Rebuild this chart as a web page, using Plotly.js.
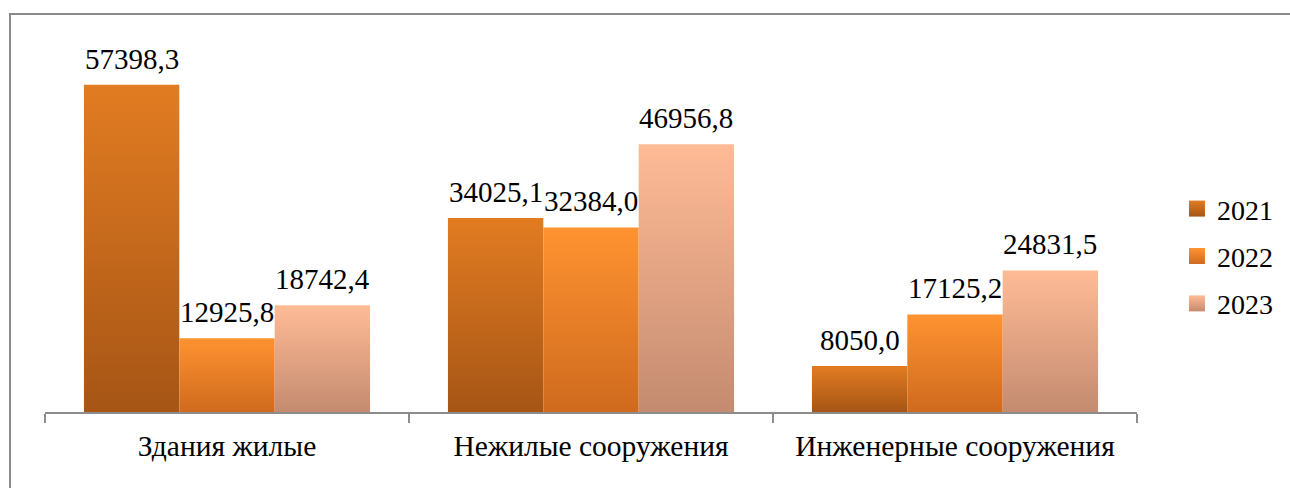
<!DOCTYPE html>
<html>
<head>
<meta charset="utf-8">
<script src="https://cdn.plot.ly/plotly-3.0.1.min.js"></script>
<style>
  html, body { margin: 0; padding: 0; background: #fff; }
  #wrap { position: relative; width: 1290px; height: 488px; overflow: hidden; }
  #frame { position: absolute; left: 9px; top: 13px; width: 1290px; height: 500px; border: 2px solid #8a8a8a; box-sizing: border-box; pointer-events: none; }
  #chart { position: absolute; left: 0; top: 0; width: 1290px; height: 488px; }
</style>
</head>
<body>
<div id="wrap">
  <div id="chart"></div>
  <div id="frame"></div>
</div>
<script>
const categories = ["Здания жилые", "Нежилые сооружения", "Инженерные сооружения"];
const years = ["2021", "2022", "2023"];
const values2021 = [57398.3, 34025.1, 8050.0];
const values2022 = [12925.8, 32384.0, 17125.2];
const values2023 = [18742.4, 46956.8, 24831.5];
const seriesValues = [values2021, values2022, values2023];

const gradients = [
  ["#E27C22", "#A65515"],
  ["#FF9331", "#CF6A1E"],
  ["#FFBB96", "#C48B70"]
];
const baseColors = ["#C9691C", "#F07F26", "#E8A486"];

const W = 1290, H = 488;
const margin = {l: 45, r: 153, t: 70, b: 76};
const bargap = 0.214;
const plotW = W - margin.l - margin.r;
const barPx = (plotW / categories.length) * (1 - bargap) / years.length;
const fontFam = 'Liberation Serif, Times New Roman, serif';

const fmt = v => v.toFixed(1).replace('.', ',');

const traces = years.map((y, i) => ({
  type: 'bar',
  name: y,
  x: categories,
  y: seriesValues[i],
  marker: {color: baseColors[i], line: {width: 0}},
  legendgroup: 'g' + i,
  hoverinfo: 'none'
}));

const annotations = [];
years.forEach((y, i) => {
  seriesValues[i].forEach((v, j) => {
    annotations.push({
      x: categories[j], y: v, xref: 'x', yref: 'y',
      text: fmt(v), showarrow: false,
      yanchor: 'bottom', xanchor: 'center',
      xshift: (i - 1) * barPx, yshift: 8,
      font: {family: fontFam, size: 29, color: '#000'}
    });
  });
});

const layout = {
  width: W, height: H,
  margin: margin,
  paper_bgcolor: 'rgba(0,0,0,0)',
  plot_bgcolor: 'rgba(0,0,0,0)',
  barmode: 'group',
  bargap: bargap,
  bargroupgap: 0,
  showlegend: true,
  legend: {
    x: 1.0366, xanchor: 'left',
    y: 0.455, yanchor: 'middle',
    font: {family: fontFam, size: 28, color: '#000'},
    traceorder: 'grouped',
    tracegroupgap: 8,
    bgcolor: 'rgba(0,0,0,0)'
  },
  xaxis: {
    type: 'category',
    showline: true, linecolor: '#8c8c8c', linewidth: 2,
    ticks: 'outside', tickson: 'boundaries', ticklen: 9,
    tickcolor: '#8c8c8c', tickwidth: 2,
    showgrid: false, zeroline: false,
    tickfont: {family: fontFam, size: 29.5, color: '#000'},
    ticklabelstandoff: 7,
    fixedrange: true
  },
  yaxis: {
    range: [0, 60000],
    visible: false,
    showgrid: false, zeroline: false,
    fixedrange: true
  },
  annotations: annotations
};

function applyGradients(gd) {
  const svg = gd.querySelector('svg.main-svg');
  if (!svg) return;
  const ns = 'http://www.w3.org/2000/svg';
  let defs = svg.querySelector('defs');
  if (!defs) { defs = document.createElementNS(ns, 'defs'); svg.insertBefore(defs, svg.firstChild); }
  gradients.forEach((g, i) => {
    const id = 'barGrad' + i;
    if (defs.querySelector('#' + id)) return;
    const lg = document.createElementNS(ns, 'linearGradient');
    lg.setAttribute('id', id);
    lg.setAttribute('x1', '0'); lg.setAttribute('y1', '0');
    lg.setAttribute('x2', '0'); lg.setAttribute('y2', '1');
    [[0, g[0]], [1, g[1]]].forEach(([o, c]) => {
      const s = document.createElementNS(ns, 'stop');
      s.setAttribute('offset', o);
      s.setAttribute('stop-color', c);
      lg.appendChild(s);
    });
    defs.appendChild(lg);
  });
  const barTraces = gd.querySelectorAll('.barlayer .trace');
  barTraces.forEach((t, i) => {
    t.querySelectorAll('path').forEach(p => { p.style.fill = 'url(#barGrad' + i + ')'; });
  });
  const legTraces = gd.querySelectorAll('.legend .traces');
  legTraces.forEach((t, i) => {
    t.querySelectorAll('.legendpoints path').forEach(p => {
      p.setAttribute('d', 'M8,8H-8V-8H8Z');
      p.style.fill = 'url(#barGrad' + i + ')';
    });
  });
}

const gd = document.getElementById('chart');
Plotly.newPlot(gd, traces, layout, {staticPlot: true, displayModeBar: false}).then(() => {
  applyGradients(gd);
});
</script>
</body>
</html>
